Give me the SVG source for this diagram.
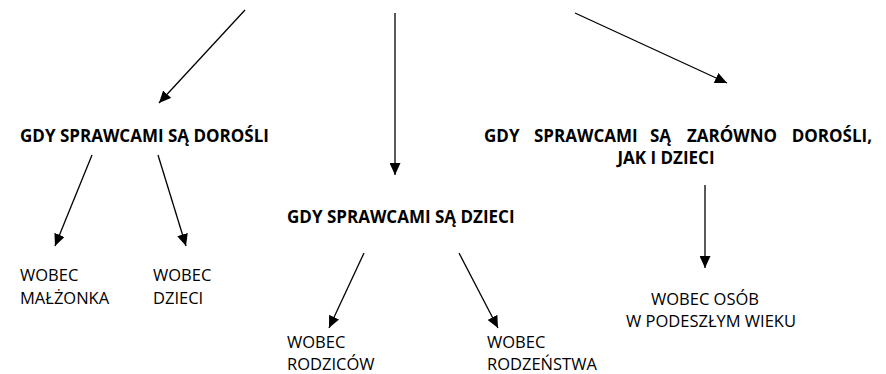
<svg xmlns="http://www.w3.org/2000/svg" width="886" height="374" viewBox="0 0 886 374">
<style>
.t{font-family:"Open Sans","Liberation Sans",sans-serif;font-size:16.5px;fill:#000}
.b{font-weight:bold;font-size:17px}
.c{stroke:#000;stroke-width:1.3;fill:none;marker-end:url(#ah)}
</style>
<defs>
<marker id="ah" markerUnits="userSpaceOnUse" markerWidth="12" markerHeight="11" refX="12" refY="5.5" orient="auto">
<path d="M0,0 L12,5.5 L0,11 z" fill="#000"/>
</marker>
</defs>
<rect width="886" height="374" fill="#fff"/>
<g id="connectors">
<line class="c" x1="245" y1="10" x2="159" y2="103"/>
<line class="c" x1="395" y1="13" x2="395" y2="175"/>
<line class="c" x1="575" y1="13" x2="727" y2="83"/>
<line class="c" x1="92" y1="155" x2="55" y2="246"/>
<line class="c" x1="158" y1="155" x2="186" y2="246"/>
<line class="c" x1="364" y1="253" x2="329" y2="328"/>
<line class="c" x1="459" y1="253" x2="498" y2="328"/>
<line class="c" x1="705" y1="185" x2="705" y2="268"/>
</g>
<g id="n-dorosli">
<text class="t b" x="20" y="142">GDY SPRAWCAMI SĄ DOROŚLI</text>
</g>
<g id="n-dzieci">
<text class="t b" x="287" y="223">GDY SPRAWCAMI SĄ DZIECI</text>
</g>
<g id="n-oba">
<text class="t b" y="142"><tspan x="484">GDY</tspan><tspan x="534">SPRAWCAMI</tspan><tspan x="650">SĄ</tspan><tspan x="687">ZARÓWNO</tspan></text>
<text class="t b" x="872" y="142" text-anchor="end">DOROŚLI,</text>
<text class="t b" x="666" y="164" text-anchor="middle">JAK I DZIECI</text>
</g>
<g id="n-malzonka">
<text class="t" x="20" y="281">WOBEC</text>
<text class="t" x="20" y="304">MAŁŻONKA</text>
</g>
<g id="n-dzieci2">
<text class="t" x="153" y="281">WOBEC</text>
<text class="t" x="153" y="304">DZIECI</text>
</g>
<g id="n-rodzicow">
<text class="t" x="287" y="348">WOBEC</text>
<text class="t" x="287" y="370">RODZICÓW</text>
</g>
<g id="n-rodzenstwa">
<text class="t" x="487" y="348">WOBEC</text>
<text class="t" x="487" y="370">RODZEŃSTWA</text>
</g>
<g id="n-starsi">
<text class="t" x="705" y="305" text-anchor="middle">WOBEC OSÓB</text>
<text class="t" x="711" y="327" text-anchor="middle">W PODESZŁYM WIEKU</text>
</g>
</svg>
